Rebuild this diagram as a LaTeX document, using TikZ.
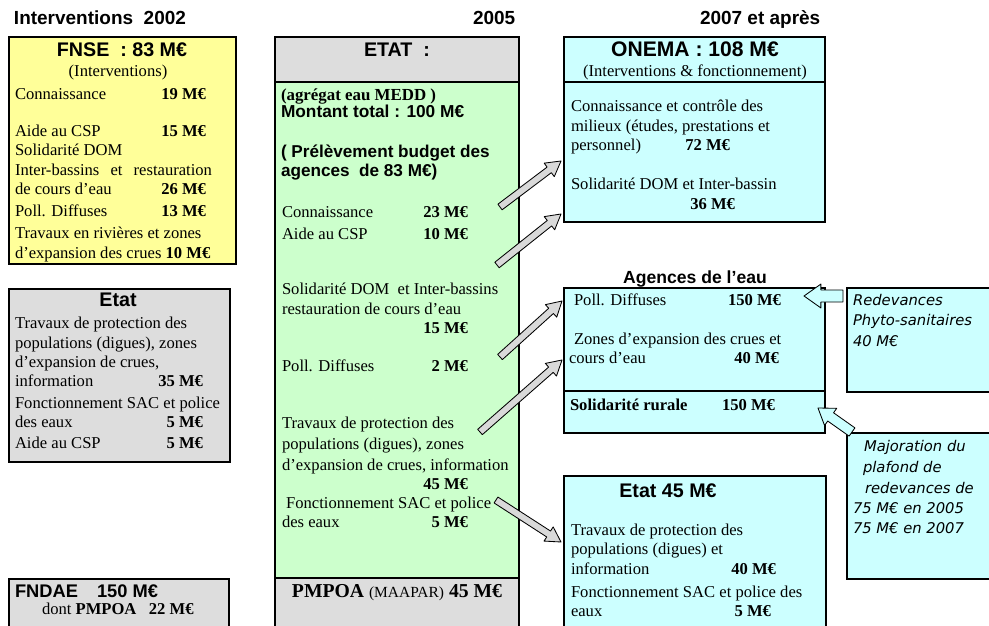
\documentclass[tikz,border=0pt]{standalone}
\usepackage{fontspec}
\setmainfont{Liberation Serif}
\setsansfont{Liberation Sans}
\newfontfamily\verdi{DejaVu Sans}
\usetikzlibrary{calc}
\tikzset{refpx/.style={x=0.25mm,y=-0.25mm,every node/.style={inner sep=0pt,outer sep=0pt}}}
\definecolor{fdjaune}{HTML}{FFFF99}
\definecolor{fdgris}{HTML}{DDDDDD}
\definecolor{fdvert}{HTML}{CCFFCC}
\definecolor{fdbleu}{HTML}{CCFFFF}
\definecolor{flgris}{HTML}{D9D9D9}
\tikzset{
  cadre/.style={draw=black,line width=2pt},
  filet/.style={draw=black,line width=1.2pt},
  txt/.style={anchor=base west,font=\fontsize{11.8}{13}\selectfont},
  somme/.style={anchor=base east,font=\fontsize{11.8}{13}\selectfont\bfseries},
  titre/.style={anchor=base,font=\fontsize{14}{16}\selectfont\sffamily\bfseries},
  gras/.style={anchor=base west,font=\fontsize{12.3}{14}\selectfont\sffamily\bfseries},
  annee/.style={anchor=base west,font=\fontsize{13.5}{16}\selectfont\sffamily\bfseries},
  redev/.style={anchor=base west,font=\fontsize{10.5}{12}\selectfont\verdi\itshape},
  fleche/.style={draw=black,line width=0.6pt,line join=round},
}
% fleche pleine : #1 couleur, #2 depart, #3 pointe, #4 demi-corps, #5 demi-tete, #6 longueur tete
\newcommand{\blocfleche}[6]{%
  \coordinate (col) at ($(#3)!#6!(#2)$);
  \filldraw[fleche,fill=#1] ($(#2)!#4!90:(#3)$) -- ($(col)!#4!-90:(#2)$) -- ($(col)!#5!-90:(#2)$)
    -- (#3) -- ($(col)!#5!90:(#2)$) -- ($(col)!#4!90:(#2)$) -- ($(#2)!#4!-90:(#3)$) -- cycle;
}

\begin{document}
\begin{tikzpicture}[refpx]
  \useasboundingbox (0,0) rectangle (989,626);
  \clip (0,0) rectangle (989,626);
  % titres des colonnes
  \node[annee] (an02) at (14,25) {Interventions~~2002};
  \node[annee] (an05) at (473,25) {2005};
  \node[annee] (an07) at (700,25) {2007 et après};

  % FNSE
  \path[cadre,fill=fdjaune] (9,37) rectangle (236,264);
  \node[titre] (fnse) at (122,57) {FNSE~~: 83 M€};
  \node[txt,anchor=base] (fnsei) at (118,77) {(Interventions)};
  \foreach \y/\lig [count=\i] in {100/Connaissance,137/Aide au CSP,156/Solidarité DOM,
      176/{\makebox[49.25mm][s]{Inter-bassins et restauration}},195/de cours d’eau,
      217/Poll. Diffuses,239/Travaux en rivières et zones,
      259/{d’expansion des crues \textbf{10 M€}}}
    \node[txt] (fnse\i) at (15,\y) {\lig};
  \foreach \y/\m [count=\i] in {100/19,137/15,195/26,217/13}
    \node[somme] (fnsem\i) at (206,\y) {\m~M€};

  % Etat 2002
  \path[cadre,fill=fdgris] (9,289) rectangle (230,462);
  \node[titre] (etat) at (118,307) {Etat};
  \foreach \y/\lig [count=\i] in {328/Travaux de protection des,348/{populations (digues), zones},
      367/{d’expansion de crues,},386/information,408/Fonctionnement SAC et police,
      427/des eaux,448/Aide au CSP}
    \node[txt] (etat\i) at (15,\y) {\lig};
  \foreach \y/\m [count=\i] in {386/35,427/5,448/5}
    \node[somme] (etatm\i) at (203,\y) {\m~M€};

  % FNDAE
  \path[cadre,fill=fdgris] (9,579) rectangle (229,640);
  \node[gras,font=\fontsize{13}{15}\selectfont\sffamily\bfseries] (fndae) at (15,597) {FNDAE};
  \node[gras,font=\fontsize{13}{15}\selectfont\sffamily\bfseries] (fndaem) at (97,597) {150 M€};
  \node[txt] (fndaep) at (42,614) {dont \textbf{PMPOA}~~~\textbf{22 M€}};

  % ETAT 2005
  \path[fill=fdgris] (275,37) rectangle (519,82);
  \path[fill=fdvert] (275,82) rectangle (519,578);
  \path[fill=fdgris] (275,578) rectangle (519,640);
  \draw[filet] (275,82) -- (519,82) (275,578) -- (519,578);
  \draw[cadre] (275,37) rectangle (519,640);
  \node[titre] (etatc) at (397,57) {ETAT~~:};
  \node[txt,font=\fontsize{12}{14}\selectfont\bfseries] (medd) at (281,101) {(agrégat eau MEDD )};
  \node[gras] (total) at (281,118) {Montant total : 100 M€};
  \node[gras,font=\fontsize{12.2}{14}\selectfont\sffamily\bfseries] (prel1) at (281,158) {( Prélèvement budget des};
  \node[gras,font=\fontsize{12.2}{14}\selectfont\sffamily\bfseries] (prel2) at (281,177) {agences~~de 83 M€)};
  \foreach \y/\lig [count=\i] in {218/Connaissance,240/Aide au CSP,295/Solidarité DOM~ et Inter-bassins,
      314/restauration de cours d’eau,371/Poll. Diffuses,428/Travaux de protection des,
      449/{populations (digues), zones},470/{d’expansion de crues, information},
      508/~Fonctionnement SAC et police,527/des eaux}
    \node[txt] (vert\i) at (282,\y) {\lig};
  \foreach \y/\m [count=\i] in {218/23,240/10,333/15,371/2,489/45,527/5}
    \node[somme] (vertm\i) at (468,\y) {\m~M€};
  \node[txt,anchor=base] (pmpoa) at (397,597) {\fontsize{14}{16}\selectfont\textbf{PMPOA} {\fontsize{11}{13}\selectfont(MAAPAR)} \textbf{45 M€}};

  % ONEMA
  \path[cadre,fill=fdbleu] (564,37) rectangle (825,222);
  \draw[filet] (564,82) -- (825,82);
  \node[titre,font=\fontsize{15}{17}\selectfont\sffamily\bfseries] (onema) at (695,57) {ONEMA : 108 M€};
  \node[txt,anchor=base] (onemai) at (695,77) {(Interventions \& fonctionnement)};
  \foreach \y/\lig [count=\i] in {112/Connaissance et contrôle des,132/{milieux (études, prestations et},
      151/personnel),190/Solidarité DOM et Inter-bassin}
    \node[txt] (onema\i) at (571,\y) {\lig};
  \node[somme] (onemam1) at (730,151) {72~M€};
  \node[somme] (onemam2) at (735,210) {36~M€};

  % Agences de l'eau
  \node[titre,font=\fontsize{12.5}{14}\selectfont\sffamily\bfseries] (agences) at (695,284) {Agences de l’eau};
  \path[cadre,fill=fdbleu] (564,288) rectangle (825,433);
  \draw[filet] (564,391) -- (825,391);
  \node[txt] (ag1) at (574,305) {Poll. Diffuses};
  \node[txt] (ag2) at (574,344) {Zones d’expansion des crues et};
  \node[txt] (ag3) at (569,363) {cours d’eau};
  \node[txt,font=\fontsize{11.8}{13}\selectfont\bfseries] (ag4) at (570,410) {Solidarité rurale};
  \node[somme] (agm1) at (781,305) {150~M€};
  \node[somme] (agm2) at (779,363) {40~M€};
  \node[somme] (agm3) at (775,410) {150~M€};

  % Etat 2007
  \path[cadre,fill=fdbleu] (564,476) rectangle (826,640);
  \node[titre] (etat45) at (668,497) {Etat 45 M€};
  \foreach \y/\lig [count=\i] in {535/Travaux de protection des,554/populations (digues) et,
      574/information,597/Fonctionnement SAC et police des,616/eaux}
    \node[txt] (et\i) at (571,\y) {\lig};
  \node[somme] (etm1) at (776,574) {40~M€};
  \node[somme] (etm2) at (771,616) {5~M€};

  % redevances
  \path[cadre,fill=fdbleu] (847,288) rectangle (1000,392);
  \foreach \y/\lig [count=\i] in {305/Redevances,325/Phyto-sanitaires,346/40 M€}
    \node[redev] (red\i) at (853,\y) {\lig};
  \path[cadre,fill=fdbleu] (847,433) rectangle (1000,579);
  \foreach \x/\y/\lig [count=\i] in {864/451/Majoration du,863/472/plafond de,865/493/redevances de,
      853/513/75 M€ en 2005,853/533/75 M€ en 2007}
    \node[redev] (maj\i) at (\x,\y) {\lig};

  % fleches
  \coordinate (d1) at (500,207); \coordinate (p1) at (561,161);
  \coordinate (d2) at (497,265); \coordinate (p2) at (561,214);
  \coordinate (d3) at (500,357); \coordinate (p3) at (562,301);
  \coordinate (d4) at (480,432); \coordinate (p4) at (562,360);
  \coordinate (d5) at (496,500); \coordinate (p5) at (561,542);
  \coordinate (d6) at (843,296); \coordinate (p6) at (804,296);
  \coordinate (d7) at (852,432); \coordinate (p7) at (818,408);
  \foreach \i in {1,...,5} \blocfleche{flgris}{d\i}{p\i}{2.5pt}{6pt}{10.5pt};
  \blocfleche{fdbleu}{d6}{p6}{4.3pt}{8.5pt}{12pt};
  \blocfleche{fdbleu}{d7}{p7}{3.6pt}{7.5pt}{11pt};
\end{tikzpicture}
\end{document}
